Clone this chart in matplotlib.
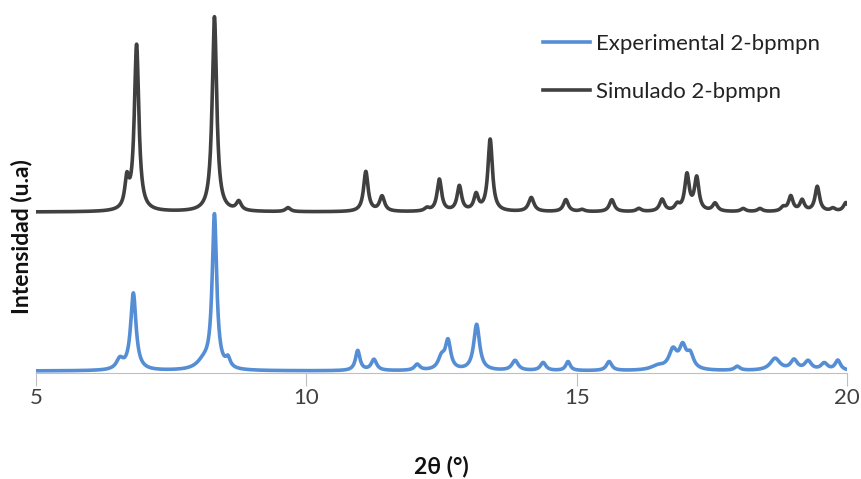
import numpy as np
import matplotlib.pyplot as plt

plt.rcParams['font.family'] = ['Lato', 'DejaVu Sans']

# peak lists: position (2theta), height, width (FWHM)
sim_pos = [6.68, 6.86, 8.30, 8.75, 9.66, 11.10, 11.40, 12.23, 12.46, 12.83, 13.14, 13.40,
           14.16, 14.80, 15.10, 15.65, 16.15, 16.58, 16.86, 17.04, 17.22, 17.56, 18.08,
           18.39, 18.82, 18.96, 19.17, 19.45, 19.74, 19.98]
sim_h = [28, 166, 195, 9, 4, 40, 15, 3, 32, 25, 16, 72,
         14, 12, 2, 12, 3, 12, 6, 36, 33, 8, 3,
         3, 4, 15, 11, 25, 3, 9]
sim_w = [0.09, 0.10, 0.10, 0.11, 0.11, 0.10, 0.11, 0.11, 0.10, 0.10, 0.10, 0.10,
         0.12, 0.11, 0.11, 0.11, 0.11, 0.11, 0.11, 0.10, 0.10, 0.11, 0.11,
         0.11, 0.11, 0.10, 0.10, 0.10, 0.11, 0.11]
sim_base = 161

exp_pos = [6.55, 6.80, 8.10, 8.30, 8.55, 10.95, 11.25, 12.05, 12.50, 12.62, 13.15, 13.86,
           14.38, 14.84, 15.60, 16.50, 16.78, 16.96, 17.10, 17.97, 18.67, 19.02, 19.28,
           19.58, 19.83]
exp_h = [10, 77, 8, 154, 9, 20, 11, 6, 12, 28, 46, 10,
         8, 9, 9, 4, 19, 21, 14, 4, 12, 10, 9,
         7, 10]
exp_w = [0.15, 0.12, 0.3, 0.10, 0.1, 0.1, 0.12, 0.12, 0.15, 0.12, 0.13, 0.14,
         0.12, 0.1, 0.12, 0.3, 0.18, 0.15, 0.15, 0.12, 0.22, 0.15, 0.15,
         0.15, 0.12]
exp_base = 2

two_theta = np.linspace(5, 20, 3001)


def profile(pos, h, w, base):
    y = np.full_like(two_theta, base, dtype=float)
    for p, a, fw in zip(pos, h, w):
        g = (fw / 2) ** 2
        y += a * g / ((two_theta - p) ** 2 + g)
    return y


fig = plt.figure(figsize=(8.62, 4.79), dpi=100)
ax = fig.add_axes([0.0418, 0.2213, 0.9408, 0.7577])

ax.plot(two_theta, profile(exp_pos, exp_h, exp_w, exp_base), color='#558ED5', lw=2.6,
        label='Experimental 2-bpmpn')
ax.plot(two_theta, profile(sim_pos, sim_h, sim_w, sim_base), color='#404040', lw=2.6,
        label='Simulado 2-bpmpn')

ax.set_xlim(5, 20)
ax.set_ylim(0, 363)
ax.set_xticks([5, 10, 15, 20])
ax.set_yticks([])
for s in ['top', 'right', 'left']:
    ax.spines[s].set_visible(False)
ax.spines['bottom'].set_color('#BFBFBF')
ax.tick_params(axis='x', length=9, color='#BFBFBF', labelsize=16, labelcolor='#404040', pad=2)

fig.text(0.512, 0.027, '2θ (°)', fontsize=16.5, fontweight='bold', ha='center', va='center',
         color='#111111')
fig.text(0.025, 0.507, 'Intensidad (u.a)', fontsize=16.5, fontweight='bold', rotation=90,
         ha='center', va='center', color='#111111')

ax.legend(loc='upper left', bbox_to_anchor=(543 / 862, 1 - 34 / 479),
          bbox_transform=fig.transFigure, frameon=False, fontsize=16,
          handlelength=2.1, handletextpad=0.3, labelspacing=1.25, borderpad=0,
          borderaxespad=0, labelcolor='#222222')

fig.savefig('out.png', dpi=100)
